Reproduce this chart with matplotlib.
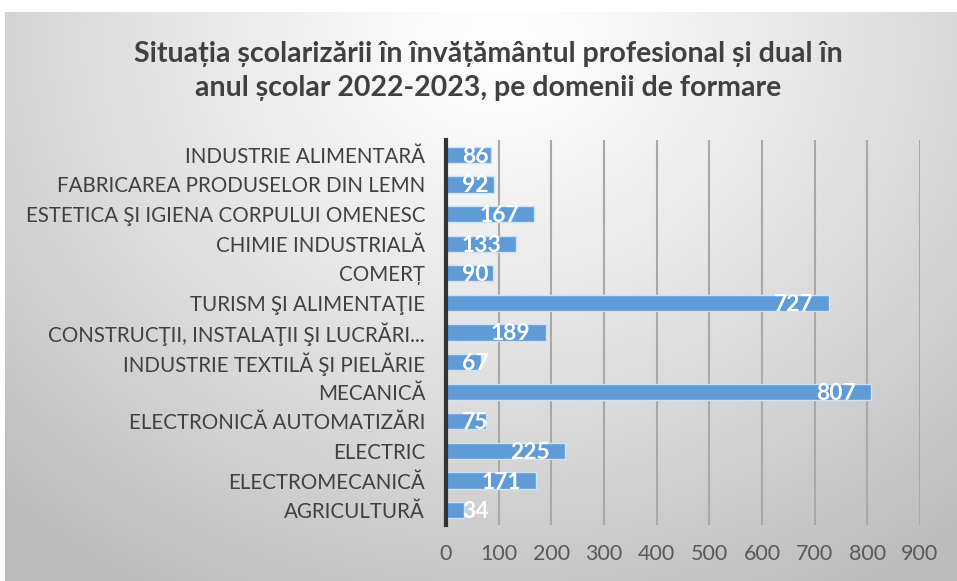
import numpy as np
import matplotlib
matplotlib.use("Agg")
import matplotlib.pyplot as plt
import matplotlib.transforms as mtransforms

categories = [
    "INDUSTRIE ALIMENTARĂ",
    "FABRICAREA PRODUSELOR DIN LEMN",
    "ESTETICA ŞI IGIENA CORPULUI OMENESC",
    "CHIMIE INDUSTRIALĂ",
    "COMERȚ",
    "TURISM ŞI ALIMENTAŢIE",
    "CONSTRUCŢII, INSTALAŢII ŞI LUCRĂRI...",
    "INDUSTRIE TEXTILĂ ŞI PIELĂRIE",
    "MECANICĂ",
    "ELECTRONICĂ AUTOMATIZĂRI",
    "ELECTRIC",
    "ELECTROMECANICĂ",
    "AGRICULTURĂ",
]
values = [86, 92, 167, 133, 90, 727, 189, 67, 807, 75, 225, 171, 34]
xticks = [0, 100, 200, 300, 400, 500, 600, 700, 800, 900]
title = "Situația școlarizării în învățământul profesional și dual în\nanul școlar 2022-2023, pe domenii de formare"

FONT = ["Lato", "DejaVu Sans"]
plt.rcParams["font.family"] = FONT

W, H = 957, 581
fig = plt.figure(figsize=(W / 100, H / 100), dpi=100)
fig.patch.set_facecolor("white")

# background gradient panel
bg = fig.add_axes([5 / W, 0, 1 - 5 / W, 1 - 12 / H])
yy, xx = np.mgrid[0:1:300j, 0:1:500j]
d = np.sqrt(((xx - 0.52) / 0.75) ** 2 + ((yy - 0.05) / 1.1) ** 2)
shade = np.clip(1.0 - 0.26 * d ** 1.2, 0.74, 1.0)
img = np.dstack([shade, shade, shade])
bg.imshow(img, aspect="auto", extent=[0, 1, 1, 0], interpolation="bilinear")
bg.set_axis_off()

ax = fig.add_axes([446 / W, 1 - 525 / H, (920 - 446) / W, (525 - 140) / H])
ax.patch.set_alpha(0)

y = np.arange(len(categories))
ax.barh(y, values, height=0.55, color="#5f9bd6", edgecolor="#cfe2f5", linewidth=1.0, zorder=3)

ax.set_xlim(0, 900)
ax.set_ylim(len(categories) - 0.5, -0.5)
ax.set_xticks(xticks)
ax.set_xticklabels([str(t) for t in xticks])
ax.set_yticks(y)
ax.set_yticklabels(categories)
ax.tick_params(axis="both", length=0, colors="#595959")
ax.tick_params(axis="y", pad=15, labelsize=14.8, labelcolor="#404040")
ax.tick_params(axis="x", pad=14, labelsize=15.5)
ax.grid(axis="x", color="#a8a8a8", linewidth=1.5, zorder=0)
for s in ["top", "right", "bottom"]:
    ax.spines[s].set_visible(False)
ax.spines["left"].set_color("#333333")
ax.spines["left"].set_linewidth(3)
ax.spines["left"].set_zorder(5)

# data labels: inside end with padding, but never closer than 16px to the base
px = 72 / fig.dpi
texts = []
for yi, v in zip(y, values):
    tr = ax.transData + mtransforms.ScaledTranslation(-15 / fig.dpi, -1.5 / fig.dpi, fig.dpi_scale_trans)
    t = ax.text(v, yi, str(v), ha="right", va="center", color="white", fontsize=16.5,
                fontweight="bold", zorder=4, transform=tr)
    texts.append((t, yi))

fig.canvas.draw()
renderer = fig.canvas.get_renderer()
base_px = ax.transData.transform((0, 0))[0]
for t, yi in texts:
    bb = t.get_window_extent(renderer)
    if bb.x0 < base_px + 16:
        tr = ax.transData + mtransforms.ScaledTranslation(16 / fig.dpi, -1.5 / fig.dpi, fig.dpi_scale_trans)
        t.set_transform(tr)
        t.set_x(0)
        t.set_ha("left")

fig.text(488 / W, 1 - 71 / H, title, ha="center", va="center", fontsize=20.5, fontweight="bold",
         color="#404040", linespacing=1.4)

fig.savefig("out.png", dpi=100)
